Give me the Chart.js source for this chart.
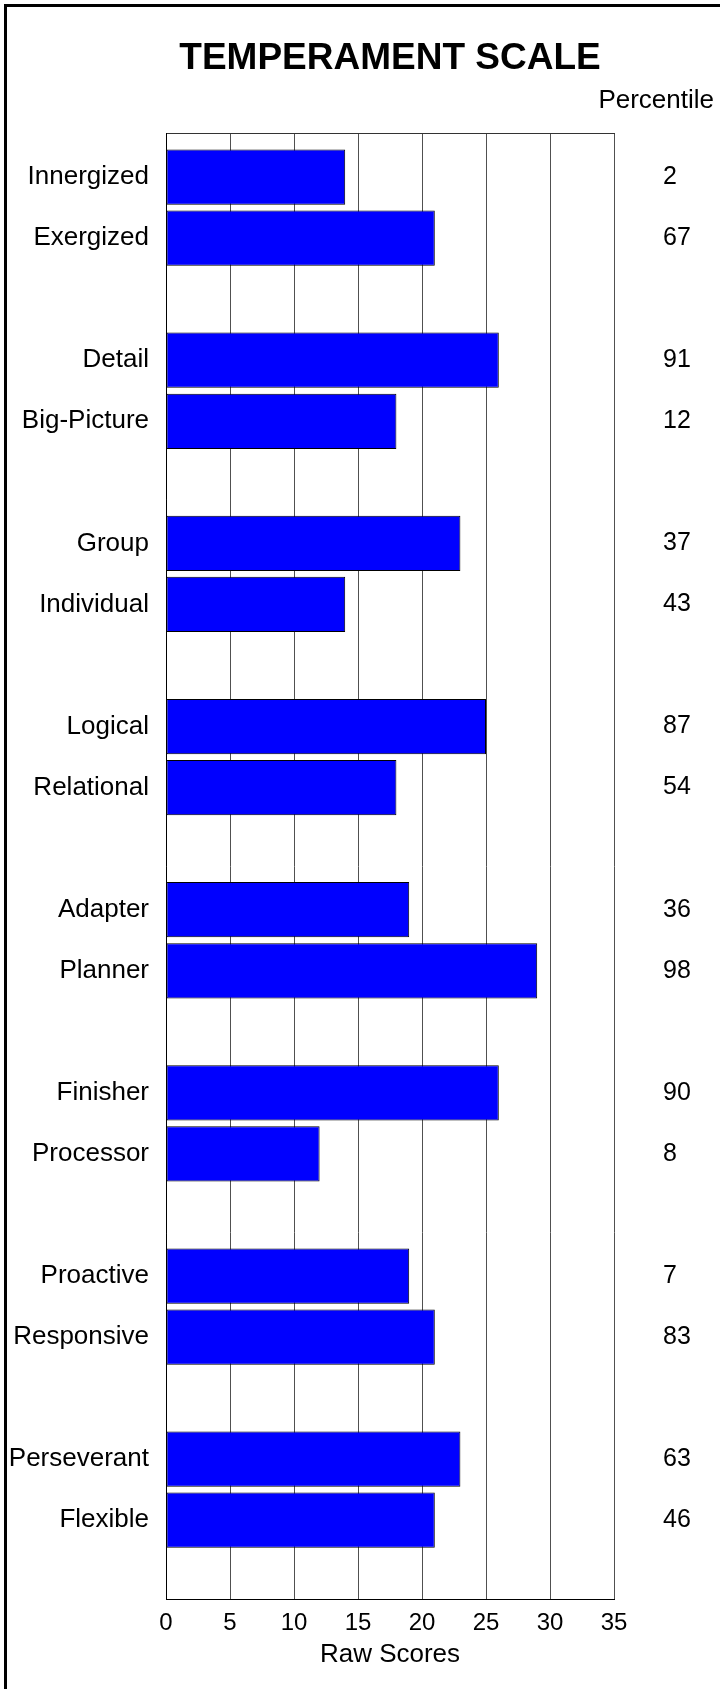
<!DOCTYPE html>
<html>
<head>
<meta charset="utf-8">
<title>Temperament Scale</title>
<script src="https://cdn.jsdelivr.net/npm/chart.js@4.4.1/dist/chart.umd.min.js"></script>
<style>
  html, body { margin: 0; padding: 0; background: #fff; }
  #wrap { position: relative; width: 720px; height: 1689px; overflow: hidden; }
  #wrap canvas { position: absolute; left: 0; top: 0; }
  /* outer frame, only top and left edges are visible */
  #frame {
    position: absolute; left: 4px; top: 4px; width: 900px; height: 2000px;
    border-left: 3px solid #000; border-top: 3px solid #000;
    pointer-events: none;
  }
</style>
</head>
<body>
<div id="wrap">
  <canvas id="chart" width="720" height="1689"></canvas>
  <div id="frame"></div>
</div>
<script>
// Trait names, top to bottom, in pairs
const traits = [
  'Innergized', 'Exergized',
  'Detail', 'Big-Picture',
  'Group', 'Individual',
  'Logical', 'Relational',
  'Adapter', 'Planner',
  'Finisher', 'Processor',
  'Proactive', 'Responsive',
  'Perseverant', 'Flexible'
];

// Raw scores for each trait
const rawScores = [14, 21, 26, 18, 23, 14, 25, 18, 19, 29, 26, 12, 19, 21, 23, 21];

// Percentile shown at the right of each bar
const percentiles = [2, 67, 91, 12, 37, 43, 87, 54, 36, 98, 90, 8, 7, 83, 63, 46];

// Raw score axis
const scoreMin = 0;
const scoreMax = 35;
const scoreStep = 5;

// Each pair of traits is followed by an empty row
const rowLabels = [];
const rowScores = [];
const rowPercentiles = [];
traits.forEach((name, i) => {
  rowLabels.push(name);
  rowScores.push(rawScores[i]);
  rowPercentiles.push(String(percentiles[i]));
  if (i % 2 === 1) {
    rowLabels.push('');
    rowScores.push(null);
    rowPercentiles.push('');
  }
});

// The rows start a little lower than half a row below the top of the plot
// (and end a little higher at the bottom), so nudge the category start
function shiftRows(scale) {
  scale._startValue = -0.71;
}

Chart.defaults.font.family = '"Liberation Sans", Arial, sans-serif';
Chart.defaults.color = '#000';

const ctx = document.getElementById('chart').getContext('2d');
new Chart(ctx, {
  type: 'bar',
  data: {
    labels: rowLabels,
    datasets: [{
      data: rowScores,
      backgroundColor: '#0000FF',
      borderColor: '#000',
      borderWidth: 1,
      borderSkipped: false,
      barPercentage: 0.905,
      categoryPercentage: 1.0
    }]
  },
  options: {
    indexAxis: 'y',
    responsive: false,
    animation: false,
    layout: { padding: { left: 0, right: 6, top: 0, bottom: 0 } },
    plugins: {
      legend: { display: false },
      tooltip: { enabled: false },
      title: {
        display: true,
        text: 'TEMPERAMENT SCALE',
        fullSize: false,
        font: { size: 37, weight: 'bold' },
        color: '#000',
        padding: { top: 36.5, bottom: 0 }
      },
      subtitle: {
        display: true,
        text: 'Percentile',
        align: 'end',
        font: { size: 26 },
        color: '#000',
        padding: { top: 4.3, bottom: 17.3 }
      }
    },
    scales: {
      x: {
        type: 'linear',
        position: 'bottom',
        min: scoreMin,
        max: scoreMax,
        ticks: { stepSize: scoreStep, font: { size: 24 }, padding: 9.9 },
        grid: { color: '#505050', lineWidth: 1, drawTicks: false },
        border: { display: true, color: '#000', width: 1 },
        title: {
          display: true,
          text: 'Raw Scores',
          font: { size: 26 },
          padding: { top: 0, bottom: 18.4 }
        },
        afterFit: (scale) => { scale.height = 90; }
      },
      xTop: {
        type: 'linear',
        position: 'top',
        min: scoreMin,
        max: scoreMax,
        ticks: { display: false },
        grid: { display: false, drawTicks: false },
        border: { display: true, color: '#333', width: 1 }
      },
      y: {
        type: 'category',
        position: 'left',
        offset: true,
        ticks: { font: { size: 26 }, padding: 17, autoSkip: false },
        grid: { display: false, drawTicks: false },
        border: { display: true, color: '#000', width: 1 },
        afterBuildTicks: shiftRows,
        afterFit: (scale) => { scale.width = 166; }
      },
      yPct: {
        type: 'category',
        position: 'right',
        labels: rowPercentiles,
        offset: true,
        ticks: { font: { size: 25 }, padding: 49, autoSkip: false },
        grid: { display: false, drawTicks: false },
        border: { display: false },
        afterBuildTicks: shiftRows,
        afterFit: (scale) => { scale.width = 100; }
      }
    }
  }
});
</script>
</body>
</html>
